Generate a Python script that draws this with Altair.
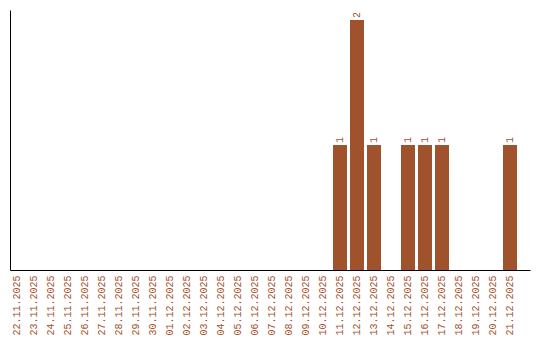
import altair as alt
import pandas as pd

dates = ["22.11.2025", "23.11.2025", "24.11.2025", "25.11.2025", "26.11.2025",
         "27.11.2025", "28.11.2025", "29.11.2025", "30.11.2025", "01.12.2025",
         "02.12.2025", "03.12.2025", "04.12.2025", "05.12.2025", "06.12.2025",
         "07.12.2025", "08.12.2025", "09.12.2025", "10.12.2025", "11.12.2025",
         "12.12.2025", "13.12.2025", "14.12.2025", "15.12.2025", "16.12.2025",
         "17.12.2025", "18.12.2025", "19.12.2025", "20.12.2025", "21.12.2025"]
counts = [0, 0, 0, 0, 0, 0, 0, 0, 0, 0,
          0, 0, 0, 0, 0, 0, 0, 0, 0, 1,
          2, 1, 0, 1, 1, 1, 0, 0, 0, 1]

df = pd.DataFrame({"date": dates, "count": counts})
df["label"] = df["count"].apply(lambda v: str(v) if v > 0 else "")

color = "#A0522D"
font = "Liberation Mono"

x = alt.X("date:N", sort=dates, title=None,
          scale=alt.Scale(paddingInner=0.1765, paddingOuter=0.3824, align=0),
          axis=alt.Axis(labelAngle=-90, labelColor=color, labelFont=font,
                        labelFontSize=10, ticks=False, labelPadding=5,
                        domainColor="black", grid=False, labelAlign="right",
                        labelBaseline="middle"))
y = alt.Y("count:Q", title=None,
          scale=alt.Scale(domain=[0, 2.08], nice=False),
          axis=alt.Axis(labels=False, ticks=False, grid=False, domainColor="black"))

bars = alt.Chart(df).mark_bar(color=color).encode(x=x, y=y)
text = alt.Chart(df).mark_text(angle=270, align="left", baseline="middle", dx=2,
                               font=font, fontSize=10, color=color).encode(
    x=alt.X("date:N", sort=dates), y=alt.Y("count:Q"), text="label:N")

chart = (bars + text).properties(
    width=520, height=260,
    background="white",
    autosize=alt.AutoSizeParams(type="none"),
    padding={"left": 10, "top": 10, "right": 10, "bottom": 70},
).configure_view(stroke=None)

chart.save("out.html", embed_options={"renderer": "svg", "actions": False})
